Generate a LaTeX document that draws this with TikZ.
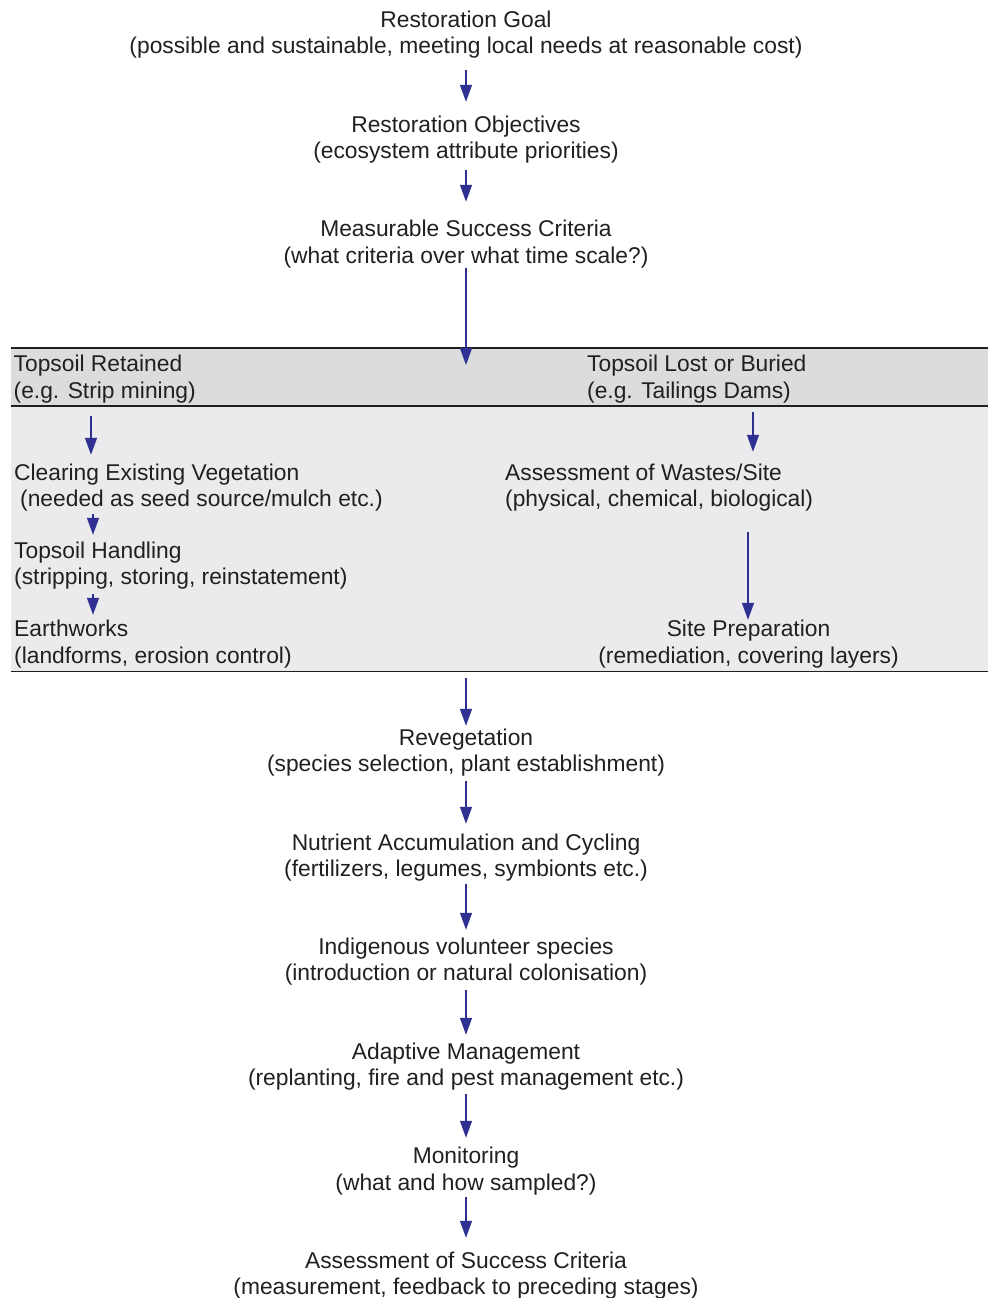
\documentclass[tikz,border=0pt]{standalone}
\usepackage{fontspec}
\setmainfont{Liberation Sans}
\usetikzlibrary{arrows.meta,calc}
\definecolor{txt}{HTML}{231F20}
\definecolor{arrowblue}{HTML}{2E3192}
\definecolor{hdrgray}{HTML}{DCDCDC}
\definecolor{bandgray}{HTML}{EBEBED}
\begin{document}
\begin{tikzpicture}[x=1pt,y=-1pt,
  lbl/.style={inner sep=0pt, text=txt, font=\fontsize{22.8}{26.3}\selectfont, align=center},
  lbll/.style={lbl, align=left, anchor=west},
  arr/.style={draw=arrowblue, line width=1.3pt, -{Triangle[width=12pt,length=17pt]}},
  band/.style={inner sep=0pt, anchor=north west, draw=none},
  rule/.style={draw=txt, line width=1.8pt}]
\useasboundingbox (0,0) rectangle (988,1298);
% bands
\node[band, fill=hdrgray, minimum width=977pt, minimum height=58pt] (split) at (11,348) {};
\node[band, fill=bandgray, minimum width=977pt, minimum height=265pt] (options) at (11,406) {};
\draw[rule] (split.north west) -- (split.north east);
\draw[rule] (options.north west) -- (options.north east);
\draw[rule] (options.south west) -- (options.south east);
% main column
\node[lbl] (goal) at (466,35.2) {\strut Restoration Goal\\\strut (possible and sustainable, meeting local needs at reasonable cost)};
\node[lbl] (obj) at (466,140.2) {\strut Restoration Objectives\\\strut (ecosystem attribute priorities)};
\node[lbl] (crit) at (466,244.7) {\strut Measurable Success Criteria\\\strut (what criteria over what time scale?)};
% left column
\node[lbll] (retained) at (13.5,379.7) {\strut Topsoil Retained\\\strut (e.g. Strip mining)};
\node[lbll] (clearing) at (14,488.2) {\strut Clearing Existing Vegetation\\\strut\hspace*{6pt}(needed as seed source/mulch etc.)};
\node[lbll] (handling) at (14,566.2) {\strut Topsoil Handling\\\strut (stripping, storing, reinstatement)};
\node[lbll] (earthworks) at (14,644.7) {\strut Earthworks\\\strut (landforms, erosion control)};
% right column
\node[lbll] (lost) at (587,379.7) {\strut Topsoil Lost or Buried\\\strut (e.g. Tailings Dams)};
\node[lbll] (wastes) at (505,488.2) {\strut Assessment of Wastes/Site\\\strut (physical, chemical, biological)};
\node[lbl] (siteprep) at (748.5,644.7) {\strut Site Preparation\\\strut (remediation, covering layers)};
% lower column
\node[lbl] (reveg) at (466,753.2) {\strut Revegetation\\\strut (species selection, plant establishment)};
\node[lbl] (nutrient) at (466,858.2) {\strut Nutrient Accumulation and Cycling\\\strut (fertilizers, legumes, symbionts etc.)};
\node[lbl] (indig) at (466,962.2) {\strut Indigenous volunteer species\\\strut (introduction or natural colonisation)};
\node[lbl] (adaptive) at (466,1067.2) {\strut Adaptive Management\\\strut (replanting, fire and pest management etc.)};
\node[lbl] (monitor) at (466,1171.7) {\strut Monitoring\\\strut (what and how sampled?)};
\node[lbl] (success) at (466,1276.2) {\strut Assessment of Success Criteria\\\strut (measurement, feedback to preceding stages)};
% arrows
\draw[arr] ($(goal.south)+(0,8.5)$) -- ($(obj.north)+(0,-11.9)$);
\draw[arr] ($(obj.south)+(0,3.5)$) -- ($(crit.north)+(0,-16.4)$);
\draw[arr] ($(crit.south)+(0,-3)$) -- ($(crit.south |- split.north)+(0,17)$);
\draw[arr] ($(retained.south west)+(77.5,10)$) -- ($(clearing.north west)+(77,-6.9)$);
\draw[arr] ($(clearing.south west)+(79,-0.5)$) -- ($(handling.north west)+(79,-4.9)$);
\draw[arr] ($(handling.south west)+(79,1.5)$) -- ($(earthworks.north west)+(79,-3.4)$);
\draw[arr] ($(lost.south west)+(166,6)$) -- ($(lost.south west |- wastes.north)+(166,-9.9)$);
\draw[arr] ($(siteprep.north |- wastes.south)+(-0.5,17.5)$) -- ($(siteprep.north)+(-0.5,1.6)$);
\draw[arr] ($(reveg.north |- options.south)+(0,7)$) -- ($(reveg.north)+(0,-0.9)$);
\draw[arr] ($(reveg.south)+(0,1.5)$) -- ($(nutrient.north)+(0,-7.9)$);
\draw[arr] ($(nutrient.south)+(0,-0.5)$) -- ($(indig.north)+(0,-5.9)$);
\draw[arr] ($(indig.south)+(0,1.5)$) -- ($(adaptive.north)+(0,-5.9)$);
\draw[arr] ($(adaptive.south)+(0,0.5)$) -- ($(monitor.north)+(0,-7.4)$);
\draw[arr] ($(monitor.south)+(0,-1)$) -- ($(success.north)+(0,-11.9)$);
\end{tikzpicture}
\end{document}
